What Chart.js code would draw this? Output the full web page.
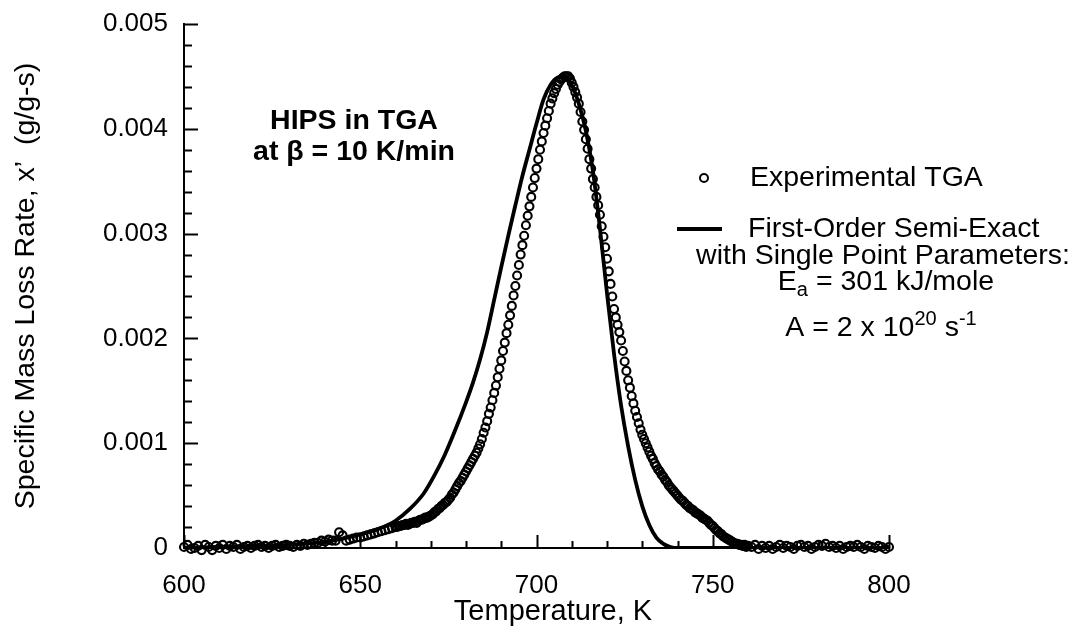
<!DOCTYPE html>
<html>
<head>
<meta charset="utf-8">
<script src="https://cdn.jsdelivr.net/npm/chart.js@4.4.1/dist/chart.umd.min.js"></script>
<style>
  body { margin: 0; background: #fff; }
  canvas { display: block; }
</style>
</head>
<body>
<canvas id="tgaChart" width="1080" height="640"></canvas>
<script>
// experimental TGA points (temperature K, mass loss rate g/g-s)
var expT = [
  600, 601, 602, 603, 604, 605, 606, 607, 608, 609,
  610, 611, 612, 613, 614, 615, 616, 617, 618, 619,
  620, 621, 622, 623, 624, 625, 626, 627, 628, 629,
  630, 631, 632, 633, 634, 635, 636, 637, 638, 639,
  640, 641, 642, 643, 644, 645, 646, 647, 648, 649,
  650, 651, 652, 653, 654, 655, 656, 657, 658, 659,
  660,
  660.5, 661, 661.5, 662, 662.5, 663, 663.5, 664, 664.5, 665,
  665.5, 666, 666.5, 667, 667.5, 668, 668.5, 669, 669.5, 670,
  670.5, 671, 671.5, 672, 672.5, 673, 673.5, 674, 674.5, 675,
  675.5, 676, 676.5, 677, 677.5, 678, 678.5, 679, 679.5, 680,
  680.5, 681, 681.5, 682, 682.5, 683, 683.5, 684, 684.5, 685,
  685.5, 686, 686.5, 687, 687.5, 688, 688.5, 689, 689.5, 690,
  690.5, 691, 691.5, 692, 692.5, 693, 693.5, 694, 694.5, 695,
  695.5, 696, 696.5, 697, 697.5, 698, 698.5, 699, 699.5, 700,
  700.5, 701, 701.5, 702, 702.5, 703, 703.5, 704, 704.5, 705,
  705.5, 706, 706.5, 707, 707.5, 708, 708.5, 709, 709.5, 710,
  710.5, 711, 711.5, 712, 712.5, 713, 713.5, 714, 714.5, 715,
  715.5, 716, 716.5, 717, 717.5, 718, 718.5, 719, 719.5, 720,
  720.5, 721, 721.5, 722, 722.5, 723, 723.5, 724, 724.5, 725,
  725.5, 726, 726.5, 727, 727.5, 728, 728.5, 729, 729.5, 730,
  730.5, 731, 731.5, 732, 732.5, 733, 733.5, 734, 734.5, 735,
  735.5, 736, 736.5, 737, 737.5, 738, 738.5, 739, 739.5, 740,
  740.5, 741, 741.5, 742, 742.5, 743, 743.5, 744, 744.5, 745,
  745.5, 746, 746.5, 747, 747.5, 748, 748.5, 749, 749.5, 750,
  750.5, 751, 751.5, 752, 752.5, 753, 753.5, 754, 754.5, 755,
  755.5, 756, 756.5, 757, 757.5, 758, 758.5, 759, 759.5, 760,
  761, 762, 763, 764, 765, 766, 767, 768, 769, 770,
  771, 772, 773, 774, 775, 776, 777, 778, 779, 780,
  781, 782, 783, 784, 785, 786, 787, 788, 789, 790,
  791, 792, 793, 794, 795, 796, 797, 798, 799, 800
];
var expRate = [
  0.00001, 0.00003, -0.00001, 0.00000, 0.00002, -0.00002, 0.00003, 0.00001, -0.00002, 0.00002,
  0.00000, 0.00003, -0.00001, 0.00002, 0.00001, 0.00003, -0.00001, 0.00001, 0.00002, 0.00000,
  0.00002, 0.00003, 0.00001, 0.00002, 0.00000, 0.00002, 0.00003, 0.00001, 0.00002, 0.00003,
  0.00002, 0.00001, 0.00003, 0.00002, 0.00004, 0.00003, 0.00004, 0.00005, 0.00005, 0.00007,
  0.00006, 0.00008, 0.00007, 0.00007, 0.00015, 0.00012, 0.00007, 0.00008, 0.00009, 0.00010,
  0.00010, 0.00011, 0.00012, 0.00013, 0.00014, 0.00015, 0.00016, 0.00017, 0.00018, 0.00019,
  0.00020,
  0.00020, 0.00021, 0.00021, 0.00022, 0.00022, 0.00023, 0.00022, 0.00023, 0.00024, 0.00024,
  0.00025, 0.00024, 0.00026, 0.00027, 0.00027, 0.00028, 0.00029, 0.00029, 0.00030, 0.00031,
  0.00032, 0.00034, 0.00035, 0.00037, 0.00038, 0.00040, 0.00041, 0.00043, 0.00044, 0.00046,
  0.00048, 0.00051, 0.00053, 0.00056, 0.00059, 0.00062, 0.00064, 0.00067, 0.00070, 0.00073,
  0.00076, 0.00079, 0.00082, 0.00085, 0.00088, 0.00091, 0.00095, 0.00099, 0.00104, 0.00110,
  0.00115, 0.00121, 0.00128, 0.00134, 0.00141, 0.00148, 0.00155, 0.00163, 0.00171, 0.00179,
  0.00188, 0.00196, 0.00205, 0.00213, 0.00222, 0.00231, 0.00241, 0.00250, 0.00260, 0.00270,
  0.00280, 0.00289, 0.00298, 0.00308, 0.00317, 0.00326, 0.00335, 0.00344, 0.00353, 0.00362,
  0.00371, 0.00380, 0.00388, 0.00396, 0.00403, 0.00410, 0.00417, 0.00424, 0.00429, 0.00434,
  0.00438, 0.00442, 0.00445, 0.00447, 0.00449, 0.00450, 0.00450, 0.00450, 0.00448, 0.00444,
  0.00440, 0.00435, 0.00430, 0.00424, 0.00416, 0.00407, 0.00399, 0.00390, 0.00381, 0.00371,
  0.00362, 0.00352, 0.00344, 0.00335, 0.00327, 0.00318, 0.00307, 0.00297, 0.00287, 0.00276,
  0.00264, 0.00252, 0.00240, 0.00228, 0.00220, 0.00213, 0.00206, 0.00198, 0.00188, 0.00178,
  0.00169, 0.00160, 0.00153, 0.00145, 0.00138, 0.00131, 0.00125, 0.00119, 0.00113, 0.00108,
  0.00104, 0.00100, 0.00096, 0.00092, 0.00088, 0.00085, 0.00081, 0.00078, 0.00075, 0.00073,
  0.00070, 0.00068, 0.00065, 0.00063, 0.00060, 0.00058, 0.00056, 0.00054, 0.00052, 0.00050,
  0.00048, 0.00046, 0.00045, 0.00043, 0.00041, 0.00040, 0.00038, 0.00037, 0.00036, 0.00034,
  0.00033, 0.00032, 0.00031, 0.00029, 0.00028, 0.00027, 0.00026, 0.00024, 0.00022, 0.00021,
  0.00019, 0.00017, 0.00016, 0.00014, 0.00013, 0.00011, 0.00010, 0.00009, 0.00008, 0.00007,
  0.00006, 0.00005, 0.00004, 0.00004, 0.00003, 0.00003, 0.00002, 0.00003, 0.00001, 0.00002,
  0.00001, 0.00003, -0.00001, 0.00002, 0.00000, 0.00002, -0.00001, 0.00001, 0.00003, 0.00000,
  0.00002, 0.00001, -0.00001, 0.00002, 0.00003, 0.00001, 0.00002, -0.00001, 0.00001, 0.00003,
  0.00002, 0.00004, 0.00001, 0.00002, 0.00000, 0.00002, -0.00001, 0.00001, 0.00002, 0.00001,
  0.00003, 0.00001, -0.00001, 0.00002, 0.00001, 0.00000, 0.00002, 0.00001, -0.00001, 0.00001
];

// first-order semi-exact model curve
var modelT = [600, 610, 620, 630, 640, 645, 650, 655, 660, 664, 668, 671, 674, 677, 680, 682, 684, 686, 688, 690,
  692, 694, 696, 698, 700, 702, 704, 706, 708, 710, 712, 714, 716, 718, 720, 722, 724, 726, 728, 730,
  732, 734, 736, 738, 740, 760, 780, 800];
var modelRate = [0, 0.00001, 0.00002, 0.00003, 0.00006, 0.00009, 0.00013, 0.00018, 0.00026, 0.00037, 0.00052, 0.00069, 0.00089, 0.00113, 0.00139, 0.00158, 0.00180, 0.00206, 0.00237, 0.00268,
  0.00298, 0.00327, 0.00355, 0.00380, 0.00405, 0.00428, 0.00442, 0.00449, 0.00450, 0.00442, 0.00424, 0.00398, 0.00360, 0.00305, 0.00243, 0.00185, 0.00136, 0.00097, 0.00065, 0.00040,
  0.00022, 0.00010, 0.00004, 0.00001, 0, 0, 0, 0];

var xTicks = [600, 650, 700, 750, 800];
var xTickLabels = ['600', '650', '700', '750', '800'];
var yTicks = [0, 0.001, 0.002, 0.003, 0.004, 0.005];
var yTickLabels = ['0', '0.001', '0.002', '0.003', '0.004', '0.005'];

var FONT = '"Liberation Sans", Arial, Helvetica, sans-serif';

// inward tick marks + text annotations (legend, title)
var decorPlugin = {
  id: 'decor',
  afterDraw: function(chart) {
    var c = chart.ctx;
    var xs = chart.scales.x, ys = chart.scales.y, a = chart.chartArea;
    c.save();
    c.strokeStyle = '#000';
    c.lineWidth = 2;
    for (var t = 600; t <= 800; t += 10) {
      var px = Math.round(xs.getPixelForValue(t)) + 0.5;
      var len = (t % 50 === 0) ? 13 : 7;
      c.beginPath(); c.moveTo(px, a.bottom); c.lineTo(px, a.bottom - len); c.stroke();
    }
    for (var k = 0; k <= 25; k++) {
      var py = Math.round(ys.getPixelForValue(k * 0.0002)) + 0.5;
      var l2 = (k % 5 === 0) ? 14 : 8;
      c.beginPath(); c.moveTo(a.left, py); c.lineTo(a.left + l2, py); c.stroke();
    }

    c.fillStyle = '#000';
    c.textBaseline = 'middle';

    // x axis title
    c.font = '29px ' + FONT;
    c.textAlign = 'center';
    c.fillText('Temperature, K', 553, 612);

    // panel label
    c.font = 'bold 28.5px ' + FONT;
    c.fillText('HIPS in TGA', 354, 121);
    c.fillText('at \u03B2 = 10 K/min', 354, 152);

    // legend
    c.lineWidth = 2;
    c.beginPath(); c.arc(704, 178, 4, 0, Math.PI * 2); c.stroke();
    c.lineWidth = 4;
    c.beginPath(); c.moveTo(677, 229); c.lineTo(722, 229); c.stroke();

    c.font = '28.5px ' + FONT;
    c.textAlign = 'left';
    c.fillText('Experimental TGA', 750, 178);
    c.fillText('First-Order Semi-Exact', 748, 229);
    c.textAlign = 'center';
    c.fillText('with Single Point Parameters:', 883, 256);

    drawRich(c, [{t: 'E'}, {t: 'a', off: 8}, {t: ' = 301 kJ/mole'}], 886, 282);
    drawRich(c, [{t: 'A = 2 x 10'}, {t: '20', off: -9}, {t: ' s'}, {t: '-1', off: -9}], 881, 328);
    c.restore();
  }
};

function drawRich(c, parts, cx, y) {
  var big = '28.5px ' + FONT, small = '20px ' + FONT;
  var total = 0;
  parts.forEach(function(p) {
    c.font = p.off ? small : big;
    p.w = c.measureText(p.t).width;
    total += p.w;
  });
  var x = cx - total / 2;
  c.textAlign = 'left';
  parts.forEach(function(p) {
    c.font = p.off ? small : big;
    c.fillText(p.t, x, y + (p.off || 0));
    x += p.w;
  });
  c.textAlign = 'center';
}

var expPoints = expT.map(function(t, i) { return {x: t, y: expRate[i]}; });
var modelPoints = modelT.map(function(t, i) { return {x: t, y: modelRate[i]}; });

var ctx = document.getElementById('tgaChart').getContext('2d');
var tgaChart = new Chart(ctx, {
  type: 'scatter',
  data: {
    datasets: [{
      label: 'First-Order Semi-Exact',
      data: modelPoints,
      showLine: true,
      borderColor: '#000',
      borderWidth: 3.8,
      pointRadius: 0,
      cubicInterpolationMode: 'monotone',
      order: 1
    }, {
      label: 'Experimental TGA',
      data: expPoints,
      pointRadius: 4,
      pointBorderWidth: 2.1,
      pointBorderColor: '#000',
      pointBackgroundColor: 'rgba(255,255,255,0)',
      clip: false,
      order: 2
    }]
  },
  options: {
    responsive: false,
    animation: false,
    layout: { padding: { top: 24, right: 191, left: 0, bottom: 0 } },
    plugins: {
      legend: { display: false },
      tooltip: { enabled: false }
    },
    scales: {
      x: {
        type: 'linear',
        min: 600,
        max: 800,
        afterBuildTicks: function(s) { s.ticks = xTicks.map(function(v) { return {value: v}; }); },
        afterFit: function(s) { s.height = 92; },
        grid: { display: false },
        border: { display: true, color: '#000', width: 2 },
        ticks: {
          color: '#000',
          font: { family: FONT, size: 26 },
          padding: 14,
          maxRotation: 0,
          autoSkip: false,
          callback: function(v, i) { return xTickLabels[i]; }
        }
      },
      y: {
        type: 'linear',
        min: 0,
        max: 0.005,
        afterBuildTicks: function(s) { s.ticks = yTicks.map(function(v) { return {value: v}; }); },
        afterFit: function(s) { s.width = 184; },
        grid: { display: false },
        border: { display: true, color: '#000', width: 2 },
        ticks: {
          color: '#000',
          font: { family: FONT, size: 26 },
          padding: 8,
          autoSkip: false,
          callback: function(v, i) { return yTickLabels[i]; }
        },
        title: {
          display: true,
          text: 'Specific Mass Loss Rate, x\u2019  (g/g-s)',
          color: '#000',
          font: { family: FONT, size: 28.5 },
          padding: { top: 9, bottom: 0 }
        }
      }
    }
  },
  plugins: [decorPlugin]
});
</script>
</body>
</html>
